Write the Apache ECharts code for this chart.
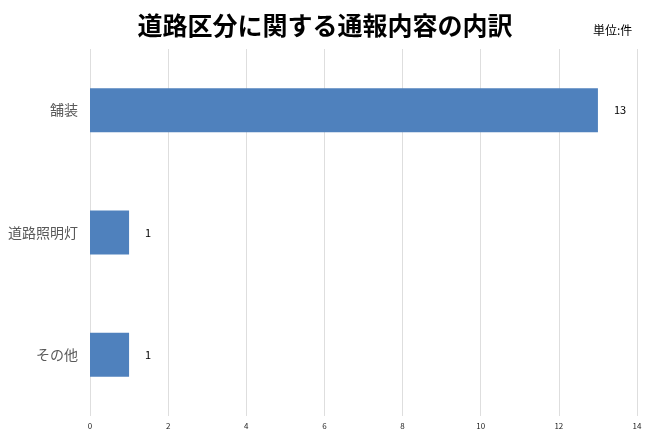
<!DOCTYPE html>
<html lang="ja">
<head>
    <meta charset="UTF-8">
    <title>道路区分に関する通報内容の内訳</title>
    <script src="https://cdn.jsdelivr.net/npm/echarts@6/dist/echarts.min.js"></script>
    <style>
        html, body { margin: 0; padding: 0; background: #fff; }
    </style>
</head>
<body>
   <div id="main" style="width: 650px;height:433px;"></div>
   <script type="text/javascript">
       // データ
       var categories = ['舗装', '道路照明灯', 'その他'];
       var counts = [13, 1, 1];
       var axisMax = 14;
       var axisStep = 2;

       var myChart = echarts.init(document.getElementById('main'));

       var option = {
           backgroundColor: '#ffffff',
           textStyle: { fontFamily: '"Noto Sans CJK JP", sans-serif' },
           title: [
               {
                   text: '道路区分に関する通報内容の内訳',
                   left: 'center',
                   top: 8,
                   textStyle: { fontSize: 25, fontWeight: 'bold', color: '#000' }
               },
               {
                   text: '単位:件',
                   left: 588,
                   top: 19,
                   textStyle: { fontSize: 12, fontWeight: 'normal', color: '#000' }
               }
           ],
           grid: { left: 90, right: 13, top: 49, bottom: 17, containLabel: false },
           xAxis: {
               type: 'value',
               min: 0,
               max: axisMax,
               interval: axisStep,
               axisLine: { show: false },
               axisTick: { show: false },
               axisLabel: { fontSize: 8, color: '#222', margin: 6 },
               splitLine: { lineStyle: { color: '#dedede', width: 1 } }
           },
           yAxis: {
               type: 'category',
               inverse: true,
               data: categories,
               axisLine: { show: false },
               axisTick: { show: false },
               axisLabel: { fontSize: 14, color: '#595959', margin: 12 }
           },
           series: [
               {
                   type: 'bar',
                   data: counts,
                   barWidth: 44,
                   itemStyle: { color: '#4f81bd' },
                   label: {
                       show: true,
                       position: 'right',
                       distance: 16,
                       fontSize: 11,
                       color: '#000'
                   }
               }
           ]
       };

       myChart.setOption(option);
   </script>
</body>
</html>
